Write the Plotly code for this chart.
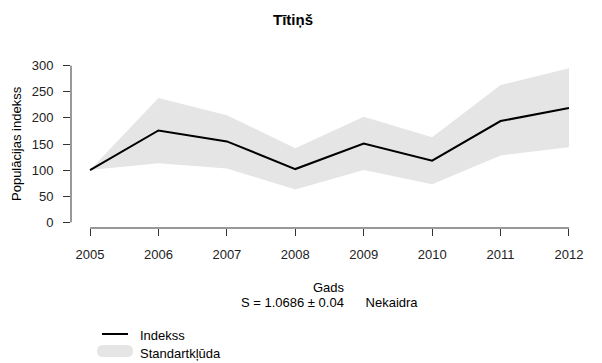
import plotly.graph_objects as go

# Population index of the wryneck with its standard-error band
years = [2005, 2006, 2007, 2008, 2009, 2010, 2011, 2012]
index = [100, 176, 155, 102, 151, 118, 194, 219]
upper = [100, 238, 205, 142, 202, 163, 263, 295]
lower = [100, 113, 103, 63, 100, 73, 128, 144]
y_ticks = [0, 50, 100, 150, 200, 250, 300]

title_text = "Tītiņš"
x_title = "Gads"
y_title = "Populācijas indekss"
stat_text = "S = 1.0686 ± 0.04      Nekaidra"
legend_labels = ["Indekss", "Standartkļūda"]

W, H = 602, 363
L, R, T, B = 71, 22, 60, 135
band_color = "#e5e5e5"
font = "Liberation Sans, Arial, sans-serif"
fs = 13


def px(x):
    return (x - L) / (W - L - R)


def py(y):
    return (H - B - y) / (H - B - T)


fig = go.Figure()
fig.add_trace(go.Scatter(x=years, y=upper, mode="lines", line=dict(width=0),
                         hoverinfo="skip", showlegend=False))
fig.add_trace(go.Scatter(x=years, y=lower, mode="lines", line=dict(width=0),
                         fill="tonexty", fillcolor=band_color,
                         hoverinfo="skip", showlegend=False))
fig.add_trace(go.Scatter(x=years, y=index, mode="lines",
                         line=dict(color="black", width=2), showlegend=False))

# R-style detached axis lines
fig.add_shape(type="line", xref="x", yref="paper", x0=years[0], x1=years[-1],
              y0=0, y1=0, line=dict(color="#333333", width=1))
fig.add_shape(type="line", xref="paper", yref="y", x0=0, x1=0,
              y0=y_ticks[0], y1=y_ticks[-1], line=dict(color="#333333", width=1))

annotations = [
    dict(text="<b>%s</b>" % title_text, x=px(293), y=py(20), xref="paper", yref="paper",
         showarrow=False, font=dict(size=15, color="black"), xanchor="center", yanchor="middle"),
    dict(text=x_title, x=px(329), y=py(287), xref="paper", yref="paper",
         showarrow=False, font=dict(size=fs, color="black"), xanchor="center", yanchor="middle"),
    dict(text=stat_text, x=px(329), y=py(302), xref="paper", yref="paper",
         showarrow=False, font=dict(size=fs, color="black"), xanchor="center", yanchor="middle"),
    dict(text=y_title, x=px(16), y=py(144), xref="paper", yref="paper", textangle=-90,
         showarrow=False, font=dict(size=fs, color="black"), xanchor="center", yanchor="middle"),
    dict(text=legend_labels[0], x=px(138), y=py(335), xref="paper", yref="paper",
         showarrow=False, font=dict(size=fs, color="black"), xanchor="left", yanchor="middle"),
    dict(text=legend_labels[1], x=px(138), y=py(353), xref="paper", yref="paper",
         showarrow=False, font=dict(size=fs, color="black"), xanchor="left", yanchor="middle"),
]

# legend keys
fig.add_shape(type="line", xref="paper", yref="paper", x0=px(102), x1=px(128),
              y0=py(334), y1=py(334), line=dict(color="black", width=2))
fig.add_shape(type="path", xref="paper", yref="paper",
              path="M {a},{t} L {b},{t} Q {c},{t} {c},{m} Q {c},{bt} {b},{bt} L {a},{bt} Q {d},{bt} {d},{m} Q {d},{t} {a},{t} Z".format(
                  a=px(103), b=px(127), c=px(133), d=px(97),
                  t=py(345), bt=py(357), m=py(351)),
              fillcolor=band_color, line=dict(width=0))

fig.update_layout(
    width=W, height=H,
    margin=dict(l=L, r=R, t=T, b=B),
    plot_bgcolor="white", paper_bgcolor="white",
    font=dict(family=font, size=fs, color="#222222"),
    annotations=annotations,
    xaxis=dict(range=[2004.722, 2012.161], tickmode="array", tickvals=years,
               ticktext=[str(y) for y in years], showgrid=False, zeroline=False,
               showline=False, ticks="outside", ticklen=7, tickcolor="#333333",
               ticklabelstandoff=7, tickfont=dict(size=fs, color="#222222")),
    yaxis=dict(range=[-10.9, 310.9], tickmode="array", tickvals=y_ticks,
               showgrid=False, zeroline=False, showline=False, ticks="outside",
               ticklen=7, tickcolor="#333333", ticklabelstandoff=7,
               tickfont=dict(size=fs, color="#222222")),
    showlegend=False,
)

fig.write_html("out.html")
